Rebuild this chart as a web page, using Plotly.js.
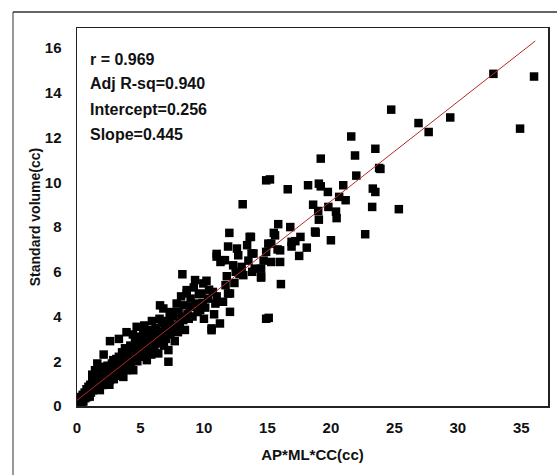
<!DOCTYPE html>
<html>
<head>
<meta charset="utf-8">
<script src="https://cdn.plot.ly/plotly-3.0.1.min.js"></script>
<style>
html,body{margin:0;padding:0;background:#fff;}
#chart{width:557px;height:475px;}
</style>
</head>
<body>
<div id="chart"></div>
<script>
// Measured points: AP*ML*CC (cc) vs standard volume (cc)
const apmlcc = [
0.1,0.15,0.2,0.25,0.3,0.35,0.4,0.45,0.5,0.55,0.6,0.65,0.7,0.75,0.8,0.85,0.9,0.95,1.0,1.0,
1.05,1.1,1.15,1.2,1.25,1.3,1.35,1.42,1.45,1.5,1.55,1.6,1.65,1.7,1.75,1.8,1.85,1.9,1.95,2.0,
2.05,2.07,2.1,2.2,2.25,2.3,2.35,2.4,2.45,2.5,2.55,2.6,2.65,2.7,2.75,2.8,2.86,2.9,2.95,3.0,
3.05,3.1,3.15,3.2,3.3,3.35,3.4,3.5,3.55,3.6,3.65,3.65,3.7,3.78,3.8,3.85,3.9,3.95,
4.0,4.05,4.1,4.2,4.25,4.3,4.43,4.45,4.5,4.57,4.6,4.7,4.75,4.8,4.85,4.9,4.95,
5.0,5.1,5.2,5.22,5.3,5.4,5.5,5.5,5.6,5.7,5.8,5.85,5.9,6.0,6.0,
6.1,6.2,6.3,6.4,6.45,6.54,6.6,6.67,6.7,6.8,6.85,6.9,7.0,
7.1,7.2,7.2,7.3,7.3,7.35,7.5,7.6,7.7,7.85,7.9,7.95,
8.0,8.1,8.24,8.3,8.37,8.4,8.5,8.64,8.64,8.7,8.8,8.9,8.95,
9.1,9.3,9.4,9.5,9.6,9.7,9.8,9.9,9.95,10.0,
10.1,10.3,10.4,10.6,10.6,10.7,10.8,10.9,11.0,11.0,11.0,
11.26,11.3,11.4,11.5,11.65,11.7,11.9,11.9,12.0,12.05,12.05,11.8,
12.3,12.4,12.6,12.7,12.8,12.97,13.05,13.1,12.5,
13.4,13.6,13.7,13.75,13.9,14.0,13.5,13.8,
14.5,14.5,14.5,14.9,14.9,15.07,14.9,15.1,14.7,
15.2,15.3,15.3,15.5,15.6,15.85,16.0,16.0,16.06,15.8,
16.6,16.8,16.9,16.9,17.2,17.5,17.6,18.1,18.2,
18.6,18.75,18.8,19.0,19.05,19.05,19.2,19.2,19.76,19.8,20.0,
20.4,20.45,20.65,20.97,21.16,21.6,21.9,22.0,
22.7,23.25,23.3,23.5,23.5,23.8,23.9,24.75,25.35,26.9,27.7,29.4,32.8,34.9,36.0,
1.2,1.6,2.1,2.6,3.3,3.9,4.4,5.3,5.9,6.5,7.4,8.2,9.2,10.2
];
const standardVolume = [
0.1,0.3,0.05,0.25,0.4,0.15,0.3,0.5,0.2,0.45,0.6,0.35,0.55,0.75,0.4,0.65,0.86,0.5,0.42,0.7,
0.95,0.6,0.8,1.05,0.7,0.9,1.2,1.6,0.85,1.0,1.16,1.35,0.9,1.1,1.3,0.71,1.45,1.0,1.2,1.55,
0.94,1.75,1.25,1.4,1.05,1.6,1.2,1.8,1.35,1.5,0.95,1.16,1.7,1.3,1.9,1.45,2.05,1.2,1.6,1.85,
1.35,2.1,1.55,1.8,2.2,1.4,1.7,2.0,2.4,1.5,1.3,1.75,2.2,2.58,1.9,2.3,1.6,2.0,
2.45,1.8,2.2,2.7,1.95,2.35,1.6,2.1,2.6,2.95,2.3,3.54,2.0,2.5,2.8,3.1,2.2,
2.6,3.0,2.5,3.39,2.2,2.8,2.05,3.2,2.5,2.9,3.4,2.3,2.7,3.24,2.9,
2.5,3.5,2.8,2.35,3.1,4.5,3.3,3.02,3.7,4.36,2.7,3.4,3.0,
3.8,1.98,2.5,3.69,4.14,3.2,3.5,4.0,2.9,4.58,3.6,3.3,
4.2,3.7,3.99,5.89,3.84,4.5,3.4,5.18,5.03,4.1,3.9,4.43,4.8,
4.0,5.63,4.58,4.2,5.0,4.29,5.03,4.6,5.48,3.9,
4.4,4.8,5.2,3.47,3.39,5.1,4.1,4.58,6.68,6.8,4.9,
3.69,6.44,6.52,4.66,6.52,5.4,5.03,7.13,7.74,4.21,5.03,5.8,
6.29,5.5,7.04,6.74,5.9,6.22,9.02,5.85,6.0,
7.19,7.56,7.56,6.82,6.82,6.14,6.5,6.0,
6.14,5.74,5.78,6.89,10.09,7.26,3.9,3.94,6.5,
10.13,7.26,6.44,7.74,7.63,8.13,6.96,6.44,5.45,7.0,
9.69,8.0,7.34,7.13,7.37,6.71,7.56,7.08,9.87,
9.0,7.8,7.75,8.72,9.94,8.33,9.82,11.06,9.57,8.9,7.41,
8.69,8.4,9.35,9.87,9.2,12.05,11.2,10.3,
7.68,8.9,9.72,9.57,11.5,10.64,10.6,13.25,8.8,12.65,12.25,12.9,14.85,12.4,14.73,
1.4,1.9,2.3,2.9,3.0,3.3,3.2,3.6,3.8,3.9,4.2,4.9,5.3,5.6
];
// Regression statistics shown on the chart
const statLabels = ["r = 0.969", "Adj R-sq=0.940", "Intercept=0.256", "Slope=0.445"];
const intercept = 0.256;
const slope = 0.445;
const fitX = [0, 36.1];
const fitY = fitX.map(v => intercept + slope * v);

const FONT = "Liberation Sans, Arial, sans-serif";
const traces = [
  {x: apmlcc, y: standardVolume, type: "scatter", mode: "markers",
   marker: {symbol: "square", size: 8.5, color: "#000"}, hoverinfo: "x+y"},
  {x: fitX, y: fitY, type: "scatter", mode: "lines",
   line: {color: "#b52a2a", width: 1}, hoverinfo: "skip"}
];
const statY = [0.9172, 0.8519, 0.7849, 0.7188];
const layout = {
  width: 557, height: 475,
  margin: {l: 77, r: 9, t: 28, b: 69},
  paper_bgcolor: "#fff", plot_bgcolor: "#fff",
  showlegend: false,
  font: {family: FONT, color: "#000"},
  xaxis: {
    range: [0, 37.1], dtick: 5, tick0: 0, showgrid: false, zeroline: false,
    showline: true, mirror: true, linecolor: "#222", linewidth: 1.5,
    ticks: "outside", ticklen: 7, tickcolor: "rgba(0,0,0,0)",
    tickfont: {family: FONT, size: 15, weight: "bold", color: "#111"},
    title: {text: "AP*ML*CC(cc)", standoff: 15, font: {family: FONT, size: 15, weight: "bold", color: "#111"}}
  },
  yaxis: {
    range: [0, 16.9], dtick: 2, tick0: 0, showgrid: false, zeroline: false,
    showline: true, mirror: true, linecolor: "#222", linewidth: 1.5,
    ticks: "outside", ticklen: 11, tickcolor: "rgba(0,0,0,0)",
    tickfont: {family: FONT, size: 15, weight: "bold", color: "#111"},
    title: {text: "Standard volume(cc)", standoff: 1, font: {family: FONT, size: 14, weight: "bold", color: "#111"}}
  },
  annotations: statLabels.map((t, i) => ({
    text: t, xref: "paper", yref: "paper", x: 0.0234, y: statY[i],
    xanchor: "left", yanchor: "middle", showarrow: false,
    font: {family: FONT, size: 16, weight: "bold", color: "#111"}
  })),
  shapes: [
    {type: "line", xref: "paper", yref: "paper", x0: -0.1359, x1: -0.1359, y0: 1.0423, y1: -0.3,
     line: {color: "#777", width: 1.5}},
    {type: "line", xref: "paper", yref: "paper", x0: -0.1359, x1: 1.1, y0: 1.0423, y1: 1.0423,
     line: {color: "#333", width: 1.5}}
  ]
};
Plotly.newPlot("chart", traces, layout, {displayModeBar: false, staticPlot: true});
</script>
</body>
</html>
